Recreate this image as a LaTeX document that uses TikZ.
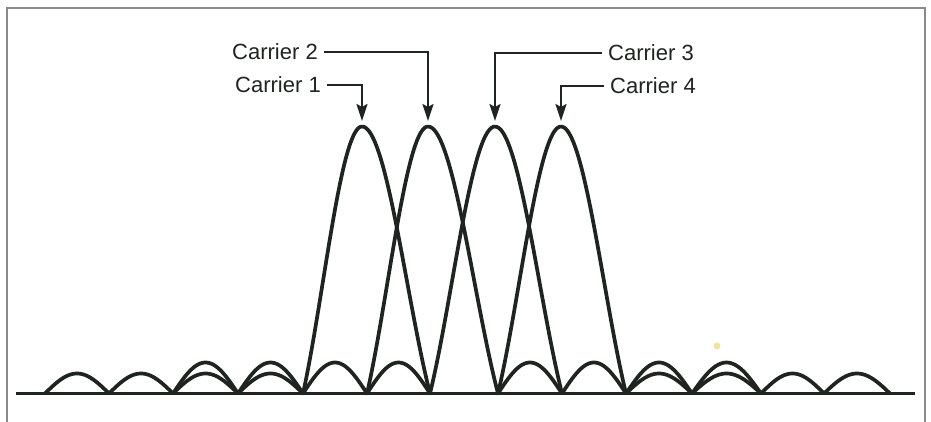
\documentclass[tikz,border=0pt]{standalone}
\usepackage{fontspec}
\setmainfont{Liberation Sans}
\usetikzlibrary{arrows.meta}
\definecolor{ink}{HTML}{1E2420}
\definecolor{framegray}{HTML}{8A8A8A}
\definecolor{smudge}{HTML}{EDE4A0}
\begin{document}
\begin{tikzpicture}[x=1pt,y=1pt,
  curve/.style={draw=ink, line width=3.7pt, line join=round, line cap=round},
  lab/.style={font=\fontsize{22}{24}\selectfont, text=ink, inner xsep=6pt, inner ysep=0pt},
  pointer/.style={draw=ink, line width=2.2pt, -{Stealth[length=17pt,width=11pt,inset=3pt]}},
]
\useasboundingbox (0,0) rectangle (931,421);
% frame
\draw[framegray, line width=1.6pt] (7,-2) -- (7,413) -- (925,413) -- (925,-2);
% baseline
\draw[ink, line width=2.4pt] (16,27.5) -- (915,27.5);
% side lobes
\foreach \a/\b/\h in {45/109/20, 109/173/20, 173/238/20, 173/238/31, 238/303/20, 238/303/31,
                      303/367/31, 367/430/31, 498/562/31, 562/626/31,
                      626/692/20, 626/692/31, 692/761/20, 692/761/31, 761/824/20, 824/890/20}
  \draw[curve] plot[domain=0:1, samples=40] ({\a+\x*(\b-\a)}, {27.5+\h*sin(\x*180)});
% main lobes
\foreach \l/\p/\r in {303/362/430, 367/428/498, 430/495/562, 498/561/626}
  \draw[curve] plot[domain=-1:1, samples=100]
    ({\p + \x*((\x<0) ? (\p-\l) : (\r-\p))}, {27.5+267*sin(\x*180)/(\x*pi)});
% smudge
\fill[smudge] (717,75) circle (3.5);
% peaks
\coordinate (p1) at (362,300);
\coordinate (p2) at (428,300);
\coordinate (p3) at (495,300);
\coordinate (p4) at (561,300);
% labels
\node[lab, anchor=east] (c1) at (327,336) {Carrier 1};
\node[lab, anchor=east] (c2) at (324,369) {Carrier 2};
\node[lab, anchor=west] (c3) at (602,368) {Carrier 3};
\node[lab, anchor=west] (c4) at (604,335) {Carrier 4};
\draw[pointer] (c1.east) -| (p1);
\draw[pointer] (c2.east) -| (p2);
\draw[pointer] (c3.west) -| (p3);
\draw[pointer] (c4.west) -| (p4);
\end{tikzpicture}
\end{document}
